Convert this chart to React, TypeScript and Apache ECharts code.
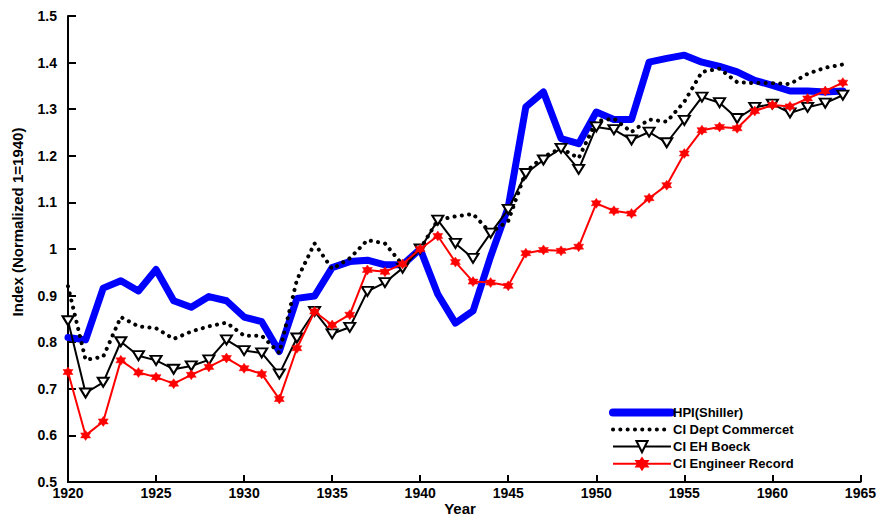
import React, { useEffect, useRef } from "react";
import * as echarts from "echarts";

const years: number[] = [];
for (let y = 1920; y <= 1964; y++) years.push(y);

const seriesNames = ["HPI(Shiller)", "CI Dept Commercet", "CI EH Boeck", "CI Engineer Record"];

const hpiShiller = [
  0.81, 0.805, 0.916, 0.932, 0.91, 0.956, 0.889, 0.875, 0.898, 0.889,
  0.854, 0.844, 0.78, 0.894, 0.899, 0.96, 0.973, 0.976, 0.966, 0.966,
  1.0, 0.903, 0.841, 0.867, 0.984, 1.09, 1.305, 1.337, 1.237, 1.226,
  1.294, 1.278, 1.278, 1.401, 1.409, 1.416, 1.401, 1.392, 1.38, 1.362,
  1.351, 1.339, 1.339, 1.337, 1.339,
];

const deptCommerce = [
  0.92, 0.762, 0.769, 0.854, 0.834, 0.83, 0.807, 0.823, 0.834, 0.842,
  0.814, 0.814, 0.777, 0.934, 1.012, 0.957, 0.98, 1.019, 1.012, 0.966,
  1.0, 1.062, 1.07, 1.075, 1.035, 1.06, 1.166, 1.198, 1.216, 1.195,
  1.274, 1.28, 1.251, 1.278, 1.273, 1.316, 1.38, 1.387, 1.358, 1.356,
  1.356, 1.354, 1.376, 1.389, 1.396,
];

const ehBoeck = [
  0.846, 0.691, 0.714, 0.801, 0.771, 0.761, 0.742, 0.749, 0.762, 0.805,
  0.782, 0.777, 0.732, 0.809, 0.866, 0.818, 0.832, 0.909, 0.928, 0.959,
  1.0, 1.062, 1.012, 0.98, 1.034, 1.085, 1.162, 1.191, 1.216, 1.171,
  1.262, 1.256, 1.234, 1.251, 1.228, 1.276, 1.326, 1.314, 1.28, 1.304,
  1.311, 1.292, 1.304, 1.313, 1.33,
];

const engineerRecord = [
  0.736, 0.6, 0.63, 0.761, 0.735, 0.725, 0.711, 0.73, 0.747, 0.766,
  0.744, 0.732, 0.678, 0.787, 0.866, 0.837, 0.859, 0.955, 0.951, 0.968,
  1.0, 1.028, 0.972, 0.93, 0.928, 0.921, 0.991, 0.998, 0.996, 1.005,
  1.098, 1.082, 1.076, 1.109, 1.137, 1.205, 1.255, 1.262, 1.259, 1.296,
  1.309, 1.306, 1.323, 1.339, 1.357,
];

const FONT = "'Liberation Sans', Arial, sans-serif";
const HEXAGRAM = "path://M0,-10L8.66,5L-8.66,5Z M0,10L-8.66,-5L8.66,-5Z";

const pairs = (vals: number[]) => years.map((y, i) => [y, vals[i]]);

export default function App() {
  const ref = useRef<HTMLDivElement>(null);
  useEffect(() => {
    if (!ref.current) return;
    const chart = echarts.init(ref.current, null, { renderer: "svg" });
    chart.setOption({
      animation: false,
      backgroundColor: "#ffffff",
      grid: { left: 68, top: 16, width: 798, height: 466, containLabel: false },
      legend: {
        left: 604,
        top: 401,
        orient: "vertical",
        itemWidth: 58,
        itemHeight: 14,
        itemGap: 4,
        data: [
          {
            name: seriesNames[0],
            itemStyle: { opacity: 0 },
            lineStyle: { width: 8, cap: "round", color: "#0000ff" },
          },
          {
            name: seriesNames[1],
            itemStyle: { opacity: 0 },
            lineStyle: { width: 4, cap: "round", type: [0.1, 7.2], color: "#000" },
          },
          { name: seriesNames[2] },
          { name: seriesNames[3] },
        ],
        textStyle: { fontFamily: FONT, fontWeight: "bold", fontSize: 13, color: "#000", padding: [0, 0, 0, -3] },
      },
      xAxis: {
        type: "value",
        min: 1920,
        max: 1965,
        interval: 5,
        axisLine: { show: true, lineStyle: { color: "#000", width: 2 } },
        axisTick: { show: true, inside: true, length: 7, lineStyle: { color: "#000", width: 2 } },
        axisLabel: {
          fontFamily: FONT,
          fontWeight: "bold",
          fontSize: 14,
          color: "#000",
          margin: 4,
          formatter: (v: number) => String(v),
        },
        splitLine: { show: false },
      },
      yAxis: {
        type: "value",
        min: 0.5,
        max: 1.5,
        interval: 0.1,
        axisLine: { show: true, lineStyle: { color: "#000", width: 2 } },
        axisTick: { show: true, inside: true, length: 8, lineStyle: { color: "#000", width: 2 } },
        axisLabel: {
          fontFamily: FONT,
          fontWeight: "bold",
          fontSize: 14,
          color: "#000",
          margin: 11,
          formatter: (v: number) => String(Math.round(v * 10) / 10),
        },
        splitLine: { show: false },
      },
      graphic: [
        {
          type: "text",
          x: 17,
          y: 222,
          rotation: Math.PI / 2,
          style: {
            text: "Index (Normalized 1=1940)",
            font: `bold 15px ${FONT}`,
            fill: "#000",
            align: "center",
            verticalAlign: "middle",
          },
        },
        {
          type: "text",
          x: 460,
          y: 508,
          style: {
            text: "Year",
            font: `bold 15px ${FONT}`,
            fill: "#000",
            align: "center",
            verticalAlign: "middle",
          },
        },
      ],
      series: [
        {
          name: seriesNames[0],
          type: "line",
          data: pairs(hpiShiller),
          showSymbol: false,
          symbol: "none",
          lineStyle: { color: "#0000ff", width: 7, join: "round", cap: "round" },
          itemStyle: { color: "#0000ff" },
          z: 1,
        },
        {
          name: seriesNames[1],
          type: "line",
          data: pairs(deptCommerce),
          symbol: "none",
          lineStyle: { color: "#000", width: 4, type: [0.1, 7.2], cap: "round", join: "round" },
          itemStyle: { color: "#000" },
          z: 2,
        },
        {
          name: seriesNames[2],
          type: "line",
          data: pairs(ehBoeck),
          symbol: "triangle",
          symbolRotate: 180,
          symbolSize: [11, 9],
          lineStyle: { color: "#000", width: 2 },
          itemStyle: { color: "#ffffff", borderColor: "#000", borderWidth: 2 },
          z: 3,
        },
        {
          name: seriesNames[3],
          type: "line",
          data: pairs(engineerRecord),
          symbol: HEXAGRAM,
          symbolSize: 10,
          lineStyle: { color: "#ff0000", width: 2 },
          itemStyle: { color: "#ff0000", borderColor: "#ff0000", borderWidth: 0.5 },
          z: 4,
        },
      ],
    });
    return () => chart.dispose();
  }, []);
  return (
    <div
      ref={ref}
      style={{ position: "fixed", left: 0, top: 0, width: 879, height: 516, background: "#fff" }}
    />
  );
}
